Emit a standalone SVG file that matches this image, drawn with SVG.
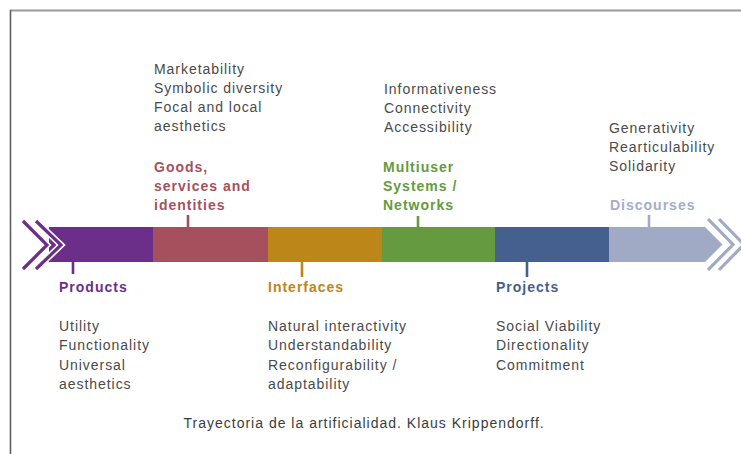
<svg xmlns="http://www.w3.org/2000/svg" width="741" height="454" viewBox="0 0 741 454">
  <style>
    .lbl { font-family: "Liberation Sans", Arial, sans-serif; font-size: 14px; font-weight: bold; letter-spacing: 1px; }
    .txt { font-family: "Liberation Sans", Arial, sans-serif; font-size: 14px; fill: #4a4a4a; letter-spacing: 0.95px; }
    .cap { font-family: "Liberation Sans", Arial, sans-serif; font-size: 14px; fill: #3c3c3c; letter-spacing: 1px; }
    .halo { fill: none; stroke: #ffffff; stroke-width: 6.5; stroke-linejoin: miter; }
    .chev { fill: none; stroke-width: 3.2; stroke-linejoin: miter; }
    .tick { stroke-width: 2.6; }
  </style>

  <rect x="0" y="0" width="741" height="454" fill="#ffffff"/>

  <!-- frame -->
  <line x1="10" y1="10.5" x2="741" y2="10.5" stroke="#9a9a9a" stroke-width="2"/>
  <line x1="10.5" y1="10" x2="10.5" y2="454" stroke="#5e5e5e" stroke-width="1.6"/>

  <!-- timeline bar -->
  <g id="products">
    <rect x="49" y="227" width="105" height="35" fill="#6b2f8a"/>
    <text class="lbl" x="59" y="292" fill="#6b2f8a">Products</text>
    <text class="txt" x="59" y="331">Utility</text>
    <text class="txt" x="59" y="350">Functionality</text>
    <text class="txt" x="59" y="369.5">Universal</text>
    <text class="txt" x="59" y="389">aesthetics</text>
  </g>

  <g id="goods">
    <rect x="153" y="227" width="116" height="35" fill="#a6505e"/>
    <text class="lbl" x="154" y="172" fill="#a6505e">Goods,</text>
    <text class="lbl" x="154" y="191" fill="#a6505e">services and</text>
    <text class="lbl" x="154" y="210" fill="#a6505e">identities</text>
    <text class="txt" x="154" y="74">Marketability</text>
    <text class="txt" x="154" y="93">Symbolic diversity</text>
    <text class="txt" x="154" y="112">Focal and local</text>
    <text class="txt" x="154" y="131">aesthetics</text>
  </g>

  <g id="interfaces">
    <rect x="268" y="227" width="115" height="35" fill="#bc8618"/>
    <text class="lbl" x="268" y="292" fill="#bc8618">Interfaces</text>
    <text class="txt" x="268" y="331">Natural interactivity</text>
    <text class="txt" x="268" y="350">Understandability</text>
    <text class="txt" x="268" y="369.5">Reconfigurability /</text>
    <text class="txt" x="268" y="389">adaptability</text>
  </g>

  <g id="networks">
    <rect x="382" y="227" width="114" height="35" fill="#659a41"/>
    <text class="lbl" x="383" y="172" fill="#659a41">Multiuser</text>
    <text class="lbl" x="383" y="191" fill="#659a41">Systems /</text>
    <text class="lbl" x="383" y="210" fill="#659a41">Networks</text>
    <text class="txt" x="384" y="94">Informativeness</text>
    <text class="txt" x="384" y="113">Connectivity</text>
    <text class="txt" x="384" y="132">Accessibility</text>
  </g>

  <g id="projects">
    <rect x="495" y="227" width="115" height="35" fill="#45608f"/>
    <text class="lbl" x="496" y="292" fill="#45608f">Projects</text>
    <text class="txt" x="496" y="331">Social Viability</text>
    <text class="txt" x="496" y="350">Directionality</text>
    <text class="txt" x="496" y="369.5">Commitment</text>
  </g>

  <g id="discourses">
    <path d="M609 227 H705 L722.5 244.5 L705 262 H609 Z" fill="#a0aac5"/>
    <text class="lbl" x="610" y="210" fill="#a3aecb">Discourses</text>
    <text class="txt" x="609" y="133">Generativity</text>
    <text class="txt" x="609" y="152">Rearticulability</text>
    <text class="txt" x="609" y="171">Solidarity</text>
  </g>

  <!-- chevrons at both ends of the bar -->
  <g id="chevrons-start">
    <polyline class="halo" points="23,221 47,245 23,269"/>
    <polyline class="chev" stroke="#6b2f8a" points="23,221 47,245 23,269"/>
    <polyline class="halo" points="36,221 61,245 36,269"/>
    <polyline class="chev" stroke="#6b2f8a" points="36,221 61,245 36,269"/>
  </g>
  <g id="chevrons-end">
    <polyline class="halo" points="708,219 733,244.5 708,270"/>
    <polyline class="chev" stroke="#a0aac5" points="708,219 733,244.5 708,270"/>
    <polyline class="halo" points="719,219 744,244.5 719,270"/>
    <polyline class="chev" stroke="#a0aac5" points="719,219 744,244.5 719,270"/>
  </g>

  <!-- label ticks -->
  <g id="connectors">
    <line class="tick" x1="73" y1="262" x2="73" y2="274" stroke="#6b2f8a"/>
    <line class="tick" x1="188" y1="215" x2="188" y2="227" stroke="#a6505e"/>
    <line class="tick" x1="302" y1="262" x2="302" y2="277" stroke="#bc8618"/>
    <line class="tick" x1="418" y1="216" x2="418" y2="227" stroke="#659a41"/>
    <line class="tick" x1="527" y1="262" x2="527" y2="277" stroke="#45608f"/>
    <line class="tick" x1="649" y1="215" x2="649" y2="227" stroke="#a0aac5"/>
  </g>

  <text class="cap" x="183.5" y="428">Trayectoria de la artificialidad. Klaus Krippendorff.</text>
</svg>
